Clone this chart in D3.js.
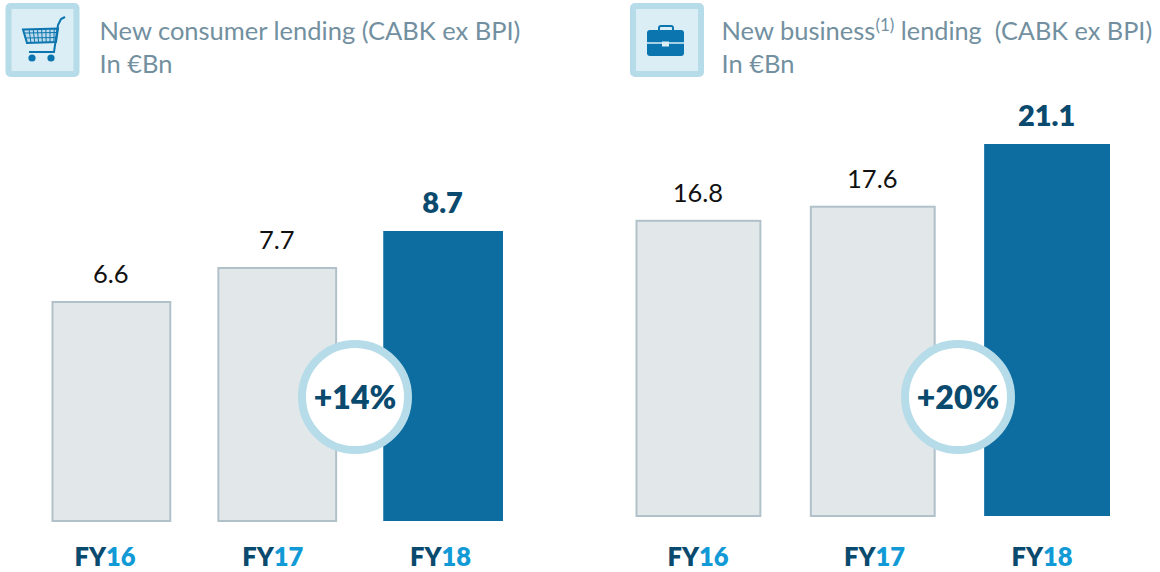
<!DOCTYPE html>
<html><head><meta charset="utf-8">
<script src="https://cdn.jsdelivr.net/npm/d3@7"></script>
<style>html,body{margin:0;padding:0;background:#fff}svg{display:block}text{font-family:Lato,"Open Sans",sans-serif}</style>
</head><body><svg id="c" width="1160" height="572"></svg>
<script>
const categories = ["FY16","FY17","FY18"];
const consumerValues = [6.6, 7.62, 8.7];
const consumerLabels = ["6.6","7.7","8.7"];
const businessValues = [16.8, 17.6, 21.1];
const businessLabels = ["16.8","17.6","21.1"];
const C = {grey:"#e2e7ea",greyStroke:"#b1c1c9",blue:"#0d6ca0",dark:"#0a4a6e",cyan:"#119ad6",title:"#72909f",ring:"#b5dce8",tile:"#dbeef5",icon:"#0b75b0"};
const svg = d3.select("#c");

function panel(o){
  const x = d3.scaleBand().domain(categories).range(o.xr).paddingInner(0.278).paddingOuter(0);
  const y = d3.scaleLinear().domain([0,o.max]).range([o.base,o.top]);
  const lx = d3.scalePoint().domain(categories).range(o.catR);
  const g = svg.append("g");
  const inset = i => i==2 ? 0 : 1;
  g.selectAll("rect.bar").data(categories).join("rect").attr("class","bar")
    .attr("x",(d,i)=>x(d)+inset(i)).attr("width",(d,i)=>x.bandwidth()-2*inset(i))
    .attr("y",(d,i)=>y(o.values[i])+inset(i)).attr("height",(d,i)=>o.base-y(o.values[i])-inset(i))
    .attr("fill",(d,i)=>i==2?C.blue:C.grey)
    .attr("stroke",(d,i)=>i==2?"none":C.greyStroke).attr("stroke-width",2);
  g.selectAll("text.val").data(categories).join("text").attr("class","val")
    .attr("x",d=>x(d)+x.bandwidth()/2-0.5).attr("y",(d,i)=>y(o.values[i])-18)
    .attr("text-anchor","middle").attr("font-size",(d,i)=>i==2?29:25.5)
    .attr("font-weight",(d,i)=>i==2?800:400).attr("fill",(d,i)=>i==2?C.dark:"#111")
    .text((d,i)=>o.labels[i]);
  const t = g.selectAll("text.cat").data(categories).join("text").attr("class","cat")
    .attr("x",(d,i)=>lx(d)+o.catDx[i]).attr("y",566).attr("text-anchor","middle")
    .attr("font-size",25.5).attr("font-weight",800);
  t.append("tspan").attr("fill",C.dark).text(d=>d.slice(0,2));
  t.append("tspan").attr("fill",C.cyan).text(d=>d.slice(2));
  g.append("circle").attr("cx",o.cx).attr("cy",397).attr("r",53).attr("fill","#fff").attr("stroke",C.ring).attr("stroke-width",8);
  g.append("text").attr("x",o.cx).attr("y",408.5).attr("text-anchor","middle").attr("font-size",32).attr("font-weight",800).attr("fill",C.dark).text(o.growth);
}
panel({xr:[51.5,503],base:521,top:231,max:8.7,values:consumerValues,labels:consumerLabels,catR:[105,440.5],catDx:[0,0,0],cx:355,growth:"+14%"});
panel({xr:[635.5,1110],base:516,top:144,max:21.1,values:businessValues,labels:businessLabels,catR:[698,1042],catDx:[0,4.5,0],cx:958,growth:"+20%"});

function title(x,parts){
  const t = svg.append("text").attr("x",x).attr("y",40).attr("font-size",25.5).attr("fill",C.title);
  parts(t);
  svg.append("text").attr("x",x).attr("y",73).attr("font-size",25.5).attr("fill",C.title).text("In €Bn");
}
title(99.5,t=>t.text("New consumer lending (CABK ex BPI)"));
title(721.5,t=>{
  t.append("tspan").text("New business");
  t.append("tspan").attr("font-size",17).attr("dy",-9).text("(1)");
  t.append("tspan").attr("dy",9).attr("xml:space","preserve").attr("font-size",25.3).text(" lending  (CABK ex BPI)");
});

function tile(x){
  svg.append("rect").attr("x",x+3).attr("y",6).attr("width",68).attr("height",68).attr("rx",2).attr("fill",C.tile).attr("stroke",C.ring).attr("stroke-width",6);
}
tile(5.5); tile(630);
// cart icon
const cart = svg.append("g").attr("fill","none").attr("stroke",C.icon);
cart.append("path").attr("d","M65 17 L61 19 L58 25 L54 52 L29 52").attr("stroke-width",2);
cart.append("path").attr("d","M23 29.5 L58 28.5 L56 42 L27 43 Z").attr("fill",C.icon).attr("fill-opacity",.15).attr("stroke-width",2);
d3.range(7).forEach(i=>cart.append("path").attr("d",`M${29+i*4.2} 29 L${31+i*3.8} 43`).attr("stroke-width",1));
[33,38].forEach(y=>cart.append("path").attr("d",`M25 ${y} L57 ${y-.5}`).attr("stroke-width",1));
[32,51].forEach(cx=>svg.append("circle").attr("cx",cx).attr("cy",58).attr("r",3.6).attr("fill",C.icon));
// briefcase icon
const b = svg.append("g");
b.append("rect").attr("x",659).attr("y",26).attr("width",14).attr("height",7).attr("rx",2).attr("fill","none").attr("stroke",C.icon).attr("stroke-width",2);
b.append("rect").attr("x",647).attr("y",30).attr("width",37).attr("height",26).attr("rx",3).attr("fill",C.icon);
b.append("path").attr("d","M647 43 H684").attr("stroke",C.tile).attr("stroke-width",1.5);
b.append("rect").attr("x",662).attr("y",41.5).attr("width",7).attr("height",5).attr("fill",C.tile);
</script></body></html>
